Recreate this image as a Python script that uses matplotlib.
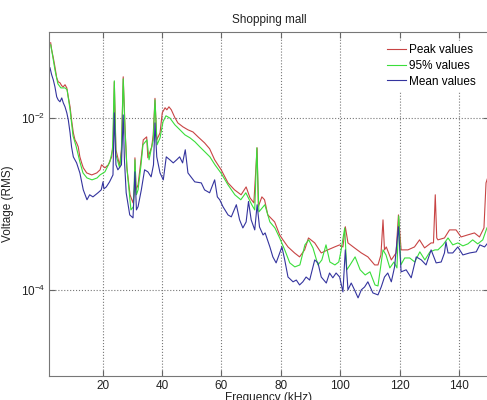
import matplotlib
matplotlib.use('Agg')
import matplotlib.pyplot as plt
import numpy as np

plt.rcParams['font.family'] = ['Liberation Sans', 'DejaVu Sans']
plt.rcParams['mathtext.fontset'] = 'custom'
plt.rcParams['mathtext.rm'] = 'Liberation Sans'
plt.rcParams['mathtext.it'] = 'Liberation Sans'

# spectrum traces (frequency in kHz, voltage RMS)
peak_f = [2.47, 2.8, 3.35, 3.9, 4.5, 5.0, 5.6, 6.2, 6.7, 7.3, 7.9, 8.4, 9.0, 9.5, 10.1,
          10.65, 11.2, 11.75, 12.3, 12.9, 13.45, 14.6, 16.3, 18.0, 19.1, 19.6, 20.75, 21.9,
          23.0, 23.55, 23.9, 24.45, 25.7, 26.3, 26.9, 27.5, 28.1, 29.2, 30.2, 30.7, 30.85,
          31.2, 31.9, 32.9, 33.65, 34.8, 35.2, 36.5, 37.0, 37.6, 38.2, 39.3, 40.05, 41.0,
          41.6, 42.3, 43.1, 44.2, 45.3, 47.0, 48.7, 50.4, 52.1, 54.3, 56.0, 57.7, 59.9,
          62.2, 64.4, 66.6, 68.3, 69.6, 70.9, 72.0, 72.4, 73.6, 74.5, 75.6, 77.9, 79.6,
          80.7, 82.4, 84.6, 86.3, 88.0, 89.3, 91.4, 93.6, 95.8, 98.1, 99.8, 100.9, 101.7,
          102.6, 104.8, 107.1, 109.3, 111.6, 112.7, 113.7, 114.4, 114.9, 115.5, 117.2,
          118.8, 119.6, 120.5, 122.8, 125.0, 126.7, 128.4, 130.6, 131.4, 132.0, 132.5,
          132.9, 135.1, 136.8, 139.0, 140.7, 142.9, 145.2, 146.9, 148.4, 149.1, 150.0]
peak_v = [0.0755, 0.0625, 0.0505, 0.0396, 0.0295, 0.0265, 0.0258, 0.0238, 0.0232, 0.0245,
          0.0225, 0.0177, 0.01355, 0.00955, 0.00674, 0.00558, 0.00515, 0.00463, 0.00354,
          0.00301, 0.00264, 0.0023, 0.00218, 0.0023, 0.0025, 0.00286, 0.00264, 0.00286,
          0.00354, 0.00558, 0.0265, 0.00428, 0.0028, 0.0043, 0.0303, 0.0079, 0.0027,
          0.00128, 0.00103, 0.00146, 0.00345, 0.00146, 0.00167, 0.00327, 0.00558, 0.00605,
          0.00345, 0.00463, 0.00638, 0.0170, 0.00558, 0.00674, 0.01153, 0.0132, 0.0125,
          0.01355, 0.0125, 0.0103, 0.0088, 0.00792, 0.00731, 0.0069, 0.00605, 0.00515,
          0.0044, 0.00327, 0.0025, 0.00176, 0.00146, 0.00128, 0.00158, 0.00118, 0.00103,
          0.00451, 0.00093, 0.00121, 0.00112, 0.000746, 0.000618, 0.000436, 0.000382,
          0.000316, 0.000269, 0.000242, 0.000292, 0.000402, 0.000352, 0.000269, 0.000292,
          0.000316, 0.000334, 0.000316, 0.000543, 0.000352, 0.000308, 0.000269, 0.000242,
          0.000195, 0.000195, 0.000255, 0.000653, 0.000292, 0.000316, 0.000223, 0.000269,
          0.000746, 0.000292, 0.000292, 0.000316, 0.000382, 0.000308, 0.000352, 0.000352,
          0.00128, 0.000402, 0.000382, 0.000402, 0.000499, 0.000499, 0.000413, 0.000436,
          0.00046, 0.000413, 0.000526, 0.00176, 0.0022]

p95_f = [2.47, 2.9, 3.9, 4.9, 5.9, 7.3, 8.0, 9.0, 10.0, 11.0, 12.3, 13.35, 14.7, 16.4,
         18.1, 19.1, 20.75, 22.4, 23.3, 23.9, 24.45, 25.7, 26.3, 26.9, 27.5, 28.2, 29.5,
         30.35, 30.85, 31.35, 31.9, 32.9, 33.55, 34.9, 35.6, 36.5, 37.0, 37.6, 38.3, 39.3,
         40.3, 41.3, 42.65, 44.3, 46.0, 47.7, 49.4, 51.05, 52.7, 54.4, 56.1, 57.8, 59.8,
         62.2, 64.5, 66.5, 68.2, 70.2, 71.2, 71.9, 72.6, 74.6, 76.3, 78.0, 79.6, 81.3,
         83.0, 84.7, 86.4, 88.1, 89.4, 90.8, 92.5, 93.8, 95.2, 96.5, 98.2, 99.5, 100.2,
         101.5, 102.2, 103.3, 105.0, 106.7, 108.4, 110.0, 111.7, 112.7, 114.4, 115.4,
         116.7, 118.1, 119.1, 119.7, 120.4, 121.7, 123.4, 125.1, 126.8, 128.5, 130.2,
         131.9, 132.9, 134.6, 136.3, 137.9, 139.6, 141.3, 143.0, 144.6, 146.3, 148.0,
         149.4, 150.0]
p95_v = [0.0715, 0.0593, 0.0366, 0.0251, 0.0225, 0.0225, 0.0214, 0.0125, 0.0062, 0.00476,
         0.0031, 0.0023, 0.00201, 0.00191, 0.00201, 0.00218, 0.00237, 0.0031, 0.00428,
         0.0272, 0.00374, 0.00264, 0.00405, 0.0287, 0.00731, 0.0025, 0.000853, 0.00093,
         0.00327, 0.00128, 0.00146, 0.00286, 0.00489, 0.00558, 0.00327, 0.00463, 0.00558,
         0.0163, 0.00489, 0.00589, 0.00906, 0.01064, 0.01, 0.00836, 0.00731, 0.00638,
         0.00589, 0.0053, 0.00463, 0.00405, 0.00354, 0.00286, 0.0023, 0.00167, 0.00128,
         0.00112, 0.00135, 0.00098, 0.000853, 0.00451, 0.000809, 0.00098, 0.000618,
         0.000526, 0.000402, 0.000292, 0.000206, 0.000185, 0.000195, 0.000334, 0.000382,
         0.000308, 0.000195, 0.000223, 0.000334, 0.000211, 0.000195, 0.000211, 0.000277,
         0.000526, 0.000171, 0.000195, 0.000242, 0.000171, 0.000149, 0.000162, 0.000114,
         0.000111, 0.000292, 0.000255, 0.00018, 0.000211, 0.00018, 0.000726, 0.000195,
         0.000235, 0.000235, 0.000211, 0.000277, 0.000223, 0.000277, 0.000292, 0.000292,
         0.000334, 0.000402, 0.000334, 0.000352, 0.000325, 0.000343, 0.000382, 0.000343,
         0.000382, 0.000526, 0.00056]

mean_f = [2.24, 2.8, 3.35, 3.9, 4.5, 5.0, 5.6, 6.2, 6.7, 7.3, 7.9, 8.4, 9.0, 9.5, 10.1,
          11.2, 12.3, 13.45, 14.7, 15.6, 16.7, 18.4, 19.5, 20.1, 20.4, 21.2, 22.3, 23.45,
          23.9, 24.45, 25.1, 26.3, 26.9, 27.3, 27.9, 29.1, 30.2, 30.85, 31.35, 31.9, 33.0,
          34.1, 35.2, 36.3, 37.1, 37.6, 38.2, 39.3, 40.4, 41.4, 42.6, 43.75, 44.9, 45.9,
          46.9, 47.8, 48.7, 51.0, 53.2, 54.3, 56.0, 57.7, 58.6, 59.4, 60.5, 62.2, 63.3,
          65.0, 66.1, 67.2, 68.3, 69.1, 70.0, 71.2, 72.0, 72.8, 74.0, 74.7, 76.3, 77.3,
          78.4, 79.6, 80.35, 81.3, 82.4, 84.1, 85.2, 86.3, 87.4, 88.5, 89.7, 91.4, 92.5,
          93.6, 95.3, 96.4, 97.5, 98.6, 99.8, 100.9, 101.7, 102.6, 103.7, 104.8, 106.0,
          107.1, 108.2, 109.3, 111.0, 112.7, 113.8, 114.9, 116.0, 117.2, 118.3, 119.6,
          120.5, 122.2, 123.9, 125.6, 127.3, 128.9, 130.6, 132.3, 134.0, 135.1, 135.6,
          136.3, 137.9, 139.6, 141.3, 143.6, 145.8, 147.0, 148.6, 150.0]
mean_v = [0.0386, 0.032, 0.0279, 0.0232, 0.0177, 0.0163, 0.0155, 0.0172, 0.0151, 0.01355,
          0.01153, 0.00955, 0.00674, 0.00463, 0.00354, 0.00301, 0.0023, 0.00146, 0.00112,
          0.00128, 0.00121, 0.00135, 0.00146, 0.00181, 0.0015, 0.00158, 0.00181, 0.00218,
          0.01153, 0.00286, 0.0025, 0.00286, 0.0109, 0.0033, 0.00135, 0.000746, 0.000689,
          0.00237, 0.000853, 0.00093, 0.00146, 0.0025, 0.00237, 0.00207, 0.00286, 0.0088,
          0.00354, 0.0023, 0.00191, 0.00354, 0.00327, 0.00301, 0.00327, 0.00354, 0.00301,
          0.00428, 0.0023, 0.00181, 0.00176, 0.00146, 0.00135, 0.00191, 0.00121, 0.00112,
          0.00093, 0.000746, 0.000708, 0.00098, 0.000653, 0.000526, 0.000618, 0.00107,
          0.000653, 0.000499, 0.00098, 0.00054, 0.000436, 0.00046, 0.000316, 0.000242,
          0.000206, 0.000269, 0.000316, 0.000223, 0.000141, 0.000124, 0.00013, 0.000114,
          0.000124, 0.000141, 0.00013, 0.000223, 0.000206, 0.000141, 0.00012, 0.000157,
          0.000138, 0.000157, 0.000141, 0.0000946, 0.000292, 0.0001, 0.00012, 0.0001,
          0.0000806, 0.0001, 0.000108, 0.000124, 0.000092, 0.0000873, 0.000108, 0.000141,
          0.000157, 0.000124, 0.000185, 0.000543, 0.000162, 0.000171, 0.000138, 0.000242,
          0.000223, 0.000195, 0.000292, 0.000206, 0.000211, 0.000269, 0.000362, 0.000269,
          0.000269, 0.000316, 0.000255, 0.000269, 0.000277, 0.000334, 0.000316, 0.000362]

fig = plt.figure(figsize=(4.87, 4.0), dpi=100)
ax = fig.add_axes([0.1012, 0.0608, 0.9023, 0.8585])

ax.semilogy(peak_f, peak_v, color='#c84444', lw=0.8, label='Peak values')
ax.semilogy(p95_f, p95_v, color='#3ade3a', lw=0.8, label='95% values')
ax.semilogy(mean_f, mean_v, color='#34349e', lw=0.8, label='Mean values')

ax.set_xlim(2, 150)
ax.set_ylim(1e-5, 1e-1)
ax.set_xticks([20, 40, 60, 80, 100, 120, 140])
ax.set_yticks([1e-4, 1e-2])
ax.set_yticklabels([r'$10^{-4}$', r'$10^{-2}$'])
ax.minorticks_off()
ax.tick_params(direction='in', length=4, top=True, right=True, labelsize=8.5,
               color='#666666', labelcolor='#222222', pad=3)
ax.grid(True, linestyle=':', color='#777777', linewidth=0.8)
for s in ax.spines.values():
    s.set_color('#777777')
    s.set_linewidth(0.8)

ax.set_title('Shopping mall', fontsize=8.5, pad=7, color='#222222')
ax.set_xlabel('Frequency (kHz)', fontsize=8.5, labelpad=0, color='#222222')
ax.set_ylabel('Voltage (RMS)', fontsize=8.5, labelpad=5, color='#222222')

leg = ax.legend(loc='upper left', bbox_to_anchor=(0.748, 0.992), fontsize=8.5,
                frameon=True, fancybox=False, edgecolor='white', framealpha=1,
                handlelength=1.6, handletextpad=0.25, labelspacing=0.3,
                borderpad=0.3)

fig.savefig('out.png', dpi=100)
